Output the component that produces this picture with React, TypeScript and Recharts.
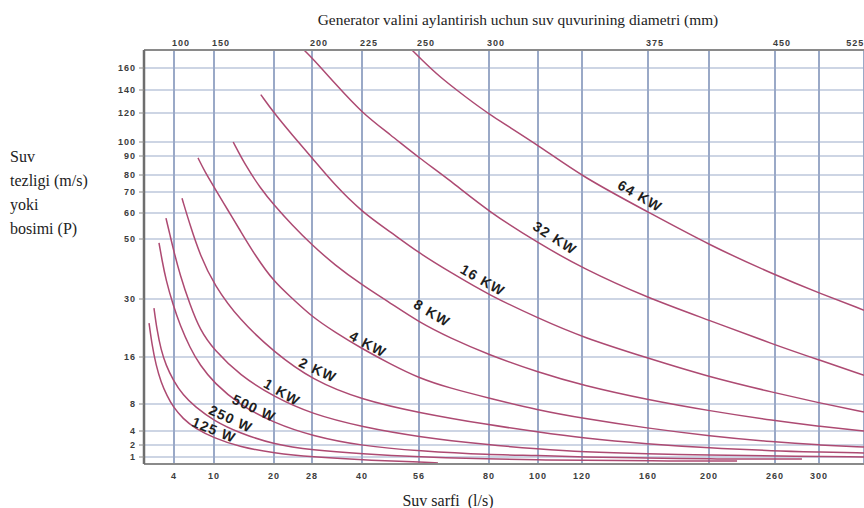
import React from 'react';
import { ComposedChart, Line, Scatter, XAxis, YAxis, CartesianGrid } from 'recharts';

// Nomogram scale breakpoints (value -> axis unit), the axes are non-uniform
const X_SCALE_VALUES = [0, 4, 10, 20, 28, 40, 56, 80, 100, 120, 160, 200, 260, 300, 340];
const X_SCALE_UNITS = [0, 30, 70, 130, 168, 218, 275, 345, 394, 438, 504, 565, 631, 675, 720];
const Y_SCALE_VALUES = [0, 1, 2, 4, 8, 16, 30, 50, 60, 70, 80, 90, 100, 120, 140, 160, 176];
const Y_SCALE_UNITS = [0, 7, 19, 33, 60, 107, 165, 225, 251, 272, 289, 308, 322, 351, 374, 396, 414];

// Tick labels
const flowTicks = [4, 10, 20, 28, 40, 56, 80, 100, 120, 160, 200, 260, 300];
const pressureTicks = [1, 2, 4, 8, 16, 30, 50, 60, 70, 80, 90, 100, 120, 140, 160];
const diameterLabels = ['100', '150', '200', '225', '250', '300', '375', '450', '525'];
const diameterAtFlow = [4, 10, 28, 40, 56, 80, 160, 260, 326];

// Curves: [flow (l/s), pressure]
const curve64kW = [[54, 176], [56.3, 169], [63, 152], [72, 134], [80, 119], [100, 98], [120, 79], [160, 60.5], [200, 48], [260, 38], [300, 32], [340, 27.3]];
const curve32kW = [[26.3, 176], [28, 169], [33.5, 146], [40, 120], [48, 105], [56, 89], [66.6, 77], [80, 60.5], [100, 48.7], [120, 40.3], [160, 30.3], [200, 24.9], [260, 18.9], [300, 15.5], [340, 12.9]];
const curve16kW = [[17.8, 136], [20, 120], [23.8, 105], [28, 89], [33.5, 74], [40, 60.5], [48, 52.7], [56, 45.3], [66.6, 39], [80, 31.3], [100, 25.4], [120, 20.8], [160, 15.8], [200, 12.6], [260, 9.9], [300, 8.2], [340, 6.8]];
const curve8kW = [[13.2, 100], [15.2, 85.3], [17.7, 72.4], [20, 63.8], [23.8, 55.4], [28, 48], [33.5, 41.3], [40, 34.7], [48, 29], [56, 24.4], [66.6, 20.6], [80, 16.5], [100, 13.4], [120, 11.2], [160, 8.7], [200, 7], [260, 5.5], [300, 4.7], [340, 4]];
const curve4kW = [[7.6, 89], [8.65, 81.6], [10, 73], [12.3, 61.4], [14.3, 53.5], [16.8, 44.7], [20, 35.7], [23.8, 30.3], [28, 25.7], [33.5, 22], [40, 18], [48, 14.8], [56, 12.4], [66.6, 10.7], [80, 9], [100, 7.1], [120, 5.9], [160, 4.4], [200, 3.3], [260, 2.4], [300, 2], [340, 1.83]];
const curve2kW = [[5.2, 67], [6.4, 55.4], [7.9, 44.7], [10, 34.7], [14.3, 24.9], [20, 17.2], [28, 12.1], [40, 8.7], [56, 6.7], [80, 4.9], [100, 3.86], [120, 3.0], [160, 2.14], [200, 1.75], [260, 1.5], [300, 1.42], [340, 1.33]];
const curve1kW = [[2.93, 58], [3.47, 51.5], [3.87, 47], [4.9, 38], [6.4, 28.6], [7.9, 22.5], [10, 17.7], [14.3, 12.9], [20, 9.2], [28, 6.5], [40, 4.6], [56, 3.14], [80, 2], [100, 1.67], [120, 1.42], [160, 1.25], [200, 1.17], [260, 1.08], [340, 1]];
const curve500W = [[2, 48.7], [2.4, 43], [2.93, 36.3], [3.87, 28.6], [4.9, 23.7], [6.4, 18.2], [7.9, 14.6], [10, 11.6], [14.3, 7.85], [20, 5.2], [28, 3.3], [40, 1.92], [56, 1.5], [80, 1.17], [100, 1.14], [120, 1], [160, 0.86], [200, 0.71], [260, 0.71], [284.5, 0.71]];
const curve250W = [[1.33, 27.8], [1.73, 22.5], [2.27, 17.7], [2.93, 14.6], [3.87, 12.1], [5.35, 9.5], [7.15, 7.6], [10, 5.5], [14.3, 3.7], [20, 2.07], [28, 1.58], [40, 1.25], [56, 1], [80, 0.71], [100, 0.57], [120, 0.57], [160, 0.43], [225.5, 0.43]];
const curve125W = [[0.67, 24.2], [1.07, 18.9], [1.6, 14.6], [2.27, 11.7], [3.07, 9.4], [3.87, 7.6], [5.35, 5.8], [7.15, 4.4], [10, 3], [14.3, 1.83], [20, 1.33], [28, 1], [40, 0.57], [56, 0.29], [62.5, 0.14]];

const seriesNames = ['64 KW', '32 KW', '16 KW', '8 KW', '4 KW', '2 KW', '1 KW', '500 W', '250 W', '125 W'];
const seriesData = [curve64kW, curve32kW, curve16kW, curve8kW, curve4kW, curve2kW, curve1kW, curve500W, curve250W, curve125W];

// Where each curve label sits: [flow, pressure]
const labelAnchors = [[155.2, 68.1], [107.7, 50.4], [77.9, 36.3], [60.5, 26.6], [41.7, 19.1], [29.4, 13.8], [21.7, 10.0], [16.7, 7.4], [12.8, 5.8], [10, 4.15]];
const LABEL_ROTATION = [30, 33, 30, 31, 28, 25, 30, 25, 25, 22];

function interp(v: number, vs: number[], us: number[]): number {
  if (v <= vs[0]) return us[0] + (v - vs[0]) * (us[1] - us[0]) / (vs[1] - vs[0]);
  for (let i = 1; i < vs.length; i++) {
    if (v <= vs[i]) {
      return us[i - 1] + (v - vs[i - 1]) * (us[i] - us[i - 1]) / (vs[i] - vs[i - 1]);
    }
  }
  const n = vs.length - 1;
  return us[n] + (v - vs[n]) * (us[n] - us[n - 1]) / (vs[n] - vs[n - 1]);
}
const toX = (q: number) => interp(q, X_SCALE_VALUES, X_SCALE_UNITS);
const toY = (h: number) => interp(h, Y_SCALE_VALUES, Y_SCALE_UNITS);

const lineSeries = seriesNames.map((name, i) => ({
  name,
  points: seriesData[i].map(([q, h]) => ({ x: toX(q), y: toY(h) })),
}));
const labelPoints = seriesNames.map((name, i) => ({
  x: toX(labelAnchors[i][0]),
  y: toY(labelAnchors[i][1]),
  text: name,
  idx: i,
}));

const xTickUnits = flowTicks.map(toX);
const yTickUnits = pressureTicks.map(toY);
const topTickUnits = diameterAtFlow.map(toX);

const tickFont = { fontFamily: 'Liberation Sans, Arial, sans-serif', fontWeight: 700, fontSize: 9, fill: '#3c3c3c', letterSpacing: 1 };
const serif = 'Liberation Serif, Times New Roman, serif';

const BottomTick = (props: any) => {
  const { x, y, index } = props;
  return <text x={x} y={y} dy="0.35em" textAnchor="middle" {...tickFont}>{flowTicks[index]}</text>;
};
const TopTick = (props: any) => {
  const { x, y, index } = props;
  return <text x={x - 2} y={y} dy="0.35em" textAnchor="start" {...tickFont}>{diameterLabels[index]}</text>;
};
const LeftTick = (props: any) => {
  const { x, y, index } = props;
  return <text x={x} y={y} dy="0.35em" textAnchor="end" {...tickFont}>{pressureTicks[index]}</text>;
};

const CurveLabel = (props: any) => {
  const { cx, cy, payload } = props;
  const a = LABEL_ROTATION[payload.idx];
  return (
    <text x={cx} y={cy} dy="0.35em" textAnchor="middle" transform={`rotate(${a} ${cx} ${cy})`}
      fontFamily="Liberation Sans, Arial, sans-serif" fontWeight={700} fontSize={14}
      letterSpacing={1.2} fill="#1e1e1e">{payload.text}</text>
  );
};

const CURVE_COLOR = '#ad4a72';

export default function App() {
  return (
    <div style={{ position: 'absolute', left: 0, top: 0, width: 864, height: 508, background: '#fff', overflow: 'hidden' }}>
      <ComposedChart width={864} height={508} margin={{ top: 30, right: 0, bottom: 14, left: 104 }}>
        <XAxis xAxisId="bottom" dataKey="x" type="number" domain={[0, 720]} ticks={xTickUnits}
          tick={<BottomTick />} tickLine={false} tickSize={0} tickMargin={12} height={30}
          axisLine={{ stroke: '#8a8a8a', strokeWidth: 2 }} allowDataOverflow interval={0} />
        <XAxis xAxisId="top" orientation="top" dataKey="x" type="number" domain={[0, 720]} ticks={topTickUnits}
          tick={<TopTick />} tickLine={false} tickSize={0} tickMargin={7} height={20}
          axisLine={{ stroke: '#8a8a8a', strokeWidth: 2 }} allowDataOverflow interval={0} />
        <YAxis yAxisId="left" dataKey="y" type="number" domain={[0, 414]} ticks={yTickUnits}
          tick={<LeftTick />} tickLine={{ stroke: '#8a8a8a' }} tickSize={5} tickMargin={3} width={40}
          axisLine={{ stroke: '#6e6e6e', strokeWidth: 2.5 }} allowDataOverflow interval={0} />
        <CartesianGrid xAxisId="bottom" yAxisId="left" vertical={false} stroke="#bcc7db" strokeWidth={1.5} />
        <CartesianGrid xAxisId="bottom" yAxisId="left" horizontal={false} stroke="#9aa9c7" strokeWidth={2} />
        {lineSeries.map((s) => (
          <Line key={s.name} xAxisId="bottom" yAxisId="left" data={s.points} dataKey="y" name={s.name}
            type="basis" stroke={CURVE_COLOR} strokeWidth={1.5} dot={false} activeDot={false}
            isAnimationActive={false} />
        ))}
        <Scatter xAxisId="bottom" yAxisId="left" data={labelPoints} dataKey="y" shape={<CurveLabel />}
          isAnimationActive={false} />
      </ComposedChart>
      <div style={{ position: 'absolute', left: 518, top: 11, transform: 'translateX(-50%)', whiteSpace: 'nowrap',
        fontFamily: serif, fontSize: 15.4, lineHeight: '18px', color: '#222' }}>
        Generator valini aylantirish uchun suv quvurining diametri (mm)
      </div>
      {['Suv', 'tezligi (m/s)', 'yoki', 'bosimi (P)'].map((t, i) => (
        <div key={t} style={{ position: 'absolute', left: 10, top: 148 + i * 24, whiteSpace: 'nowrap',
          fontFamily: serif, fontSize: 16, lineHeight: '18px', color: '#222' }}>{t}</div>
      ))}
      <div style={{ position: 'absolute', left: 448, top: 492, transform: 'translateX(-50%)', whiteSpace: 'pre',
        fontFamily: serif, fontSize: 16, lineHeight: '18px', color: '#222' }}>
        {'Suv sarfi  (l/s)'}
      </div>
    </div>
  );
}
